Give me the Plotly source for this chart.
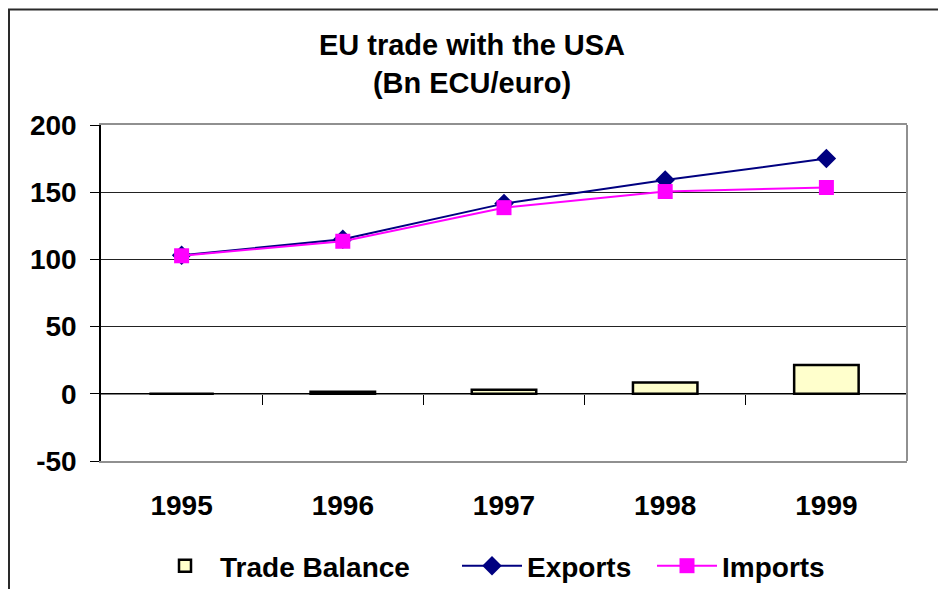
import plotly.graph_objects as go

years = ["1995", "1996", "1997", "1998", "1999"]
trade_balance = [0.0, 1.5, 3.0, 8.5, 21.5]
exports = [103.0, 115.0, 141.5, 159.0, 175.0]
imports = [102.7, 113.5, 138.5, 150.5, 153.5]
y_ticks = [-50, 0, 50, 100, 150, 200]

FONT = "Liberation Sans, Arial, sans-serif"
# the page body has an 8px margin, so the figure starts at (8, 8)
W, H = 938, 581
L, R, T, B = 93, 39, 117, 128
pw, ph = W - L - R, H - T - B

fig = go.Figure()
fig.add_trace(go.Bar(
    x=[0, 1, 2, 3, 4], y=trade_balance, name="<b>Trade Balance</b>", width=0.4,
    marker=dict(color="#FFFFCC", line=dict(color="black", width=2.5)),
    legend="legend",
))
fig.add_trace(go.Scatter(
    x=[0, 1, 2, 3, 4], y=exports, name="<b>Exports</b>", mode="lines+markers",
    line=dict(color="#000080", width=2),
    marker=dict(symbol="diamond", size=15, color="#000080"),
    legend="legend2",
))
fig.add_trace(go.Scatter(
    x=[0, 1, 2, 3, 4], y=imports, name="<b>Imports</b>", mode="lines+markers",
    line=dict(color="#FF00FF", width=2),
    marker=dict(symbol="square", size=15, color="#FF00FF"),
    legend="legend3",
))
# axis line crossing at zero (ticks at category boundaries)
fig.add_trace(go.Scatter(x=[-0.5, 4.5], y=[0, 0], xaxis="x2", mode="lines",
                         line=dict(color="black", width=1.5), showlegend=False,
                         hoverinfo="skip"))

def leg(text_x):
    return dict(orientation="h", xref="container", yref="container",
                x=(text_x - 8 - 70) / W, xanchor="left",
                y=1 - (566 - 8) / H, yanchor="middle",
                font=dict(family=FONT, size=28, color="black"),
                itemwidth=60, bgcolor="rgba(0,0,0,0)")

fig.update_layout(
    width=W, height=H,
    margin=dict(l=L, r=R, t=T, b=B, autoexpand=False),
    paper_bgcolor="white", plot_bgcolor="white",
    title=dict(text="<b>EU trade with the USA<br>(Bn ECU/euro)</b>",
               x=464 / W, xanchor="center",
               y=1 - 47 / H, yanchor="middle",
               font=dict(family=FONT, size=29, color="black")),
    font=dict(family=FONT, color="black"),
    showlegend=True,
    legend=leg(220), legend2=leg(527), legend3=leg(722),
    xaxis=dict(
        range=[-0.5, 4.5], tickvals=[0, 1, 2, 3, 4],
        ticktext=["<b>%s</b>" % y for y in years],
        tickfont=dict(family=FONT, size=28, color="black"),
        showgrid=False, zeroline=False, ticks="", ticklen=0,
        showline=True, linecolor="#909090", linewidth=2, mirror=True,
        ticklabelstandoff=18,
    ),
    xaxis2=dict(
        overlaying="x", anchor="free", position=0.2, range=[-0.5, 4.5],
        tickvals=[0.5, 1.5, 2.5, 3.5], ticks="outside", ticklen=10,
        tickcolor="black", tickwidth=1, showticklabels=False,
        showgrid=False, zeroline=False, showline=False,
    ),
    yaxis=dict(
        range=[-50, 200], tickvals=y_ticks,
        ticktext=["<b>%d</b>" % v for v in y_ticks],
        tickfont=dict(family=FONT, size=28, color="black"),
        showgrid=True, gridcolor="#222222", gridwidth=1, zeroline=False,
        ticks="outside", ticklen=9, tickcolor="black",
        showline=True, linecolor="black", linewidth=1.5,
        ticklabelstandoff=8,
    ),
    shapes=[
        dict(type="rect", xref="paper", yref="paper",
             x0=(1 - L) / pw, x1=(933 - L) / pw,
             y0=-0.6, y1=(H - B - 1.5) / ph,
             line=dict(color="#2a2a2a", width=2), fillcolor="rgba(0,0,0,0)",
             layer="below"),
        dict(type="line", xref="paper", yref="paper", x0=1, x1=1, y0=0, y1=1,
             line=dict(color="#909090", width=2)),
    ],
)

fig.write_html("out.html")
